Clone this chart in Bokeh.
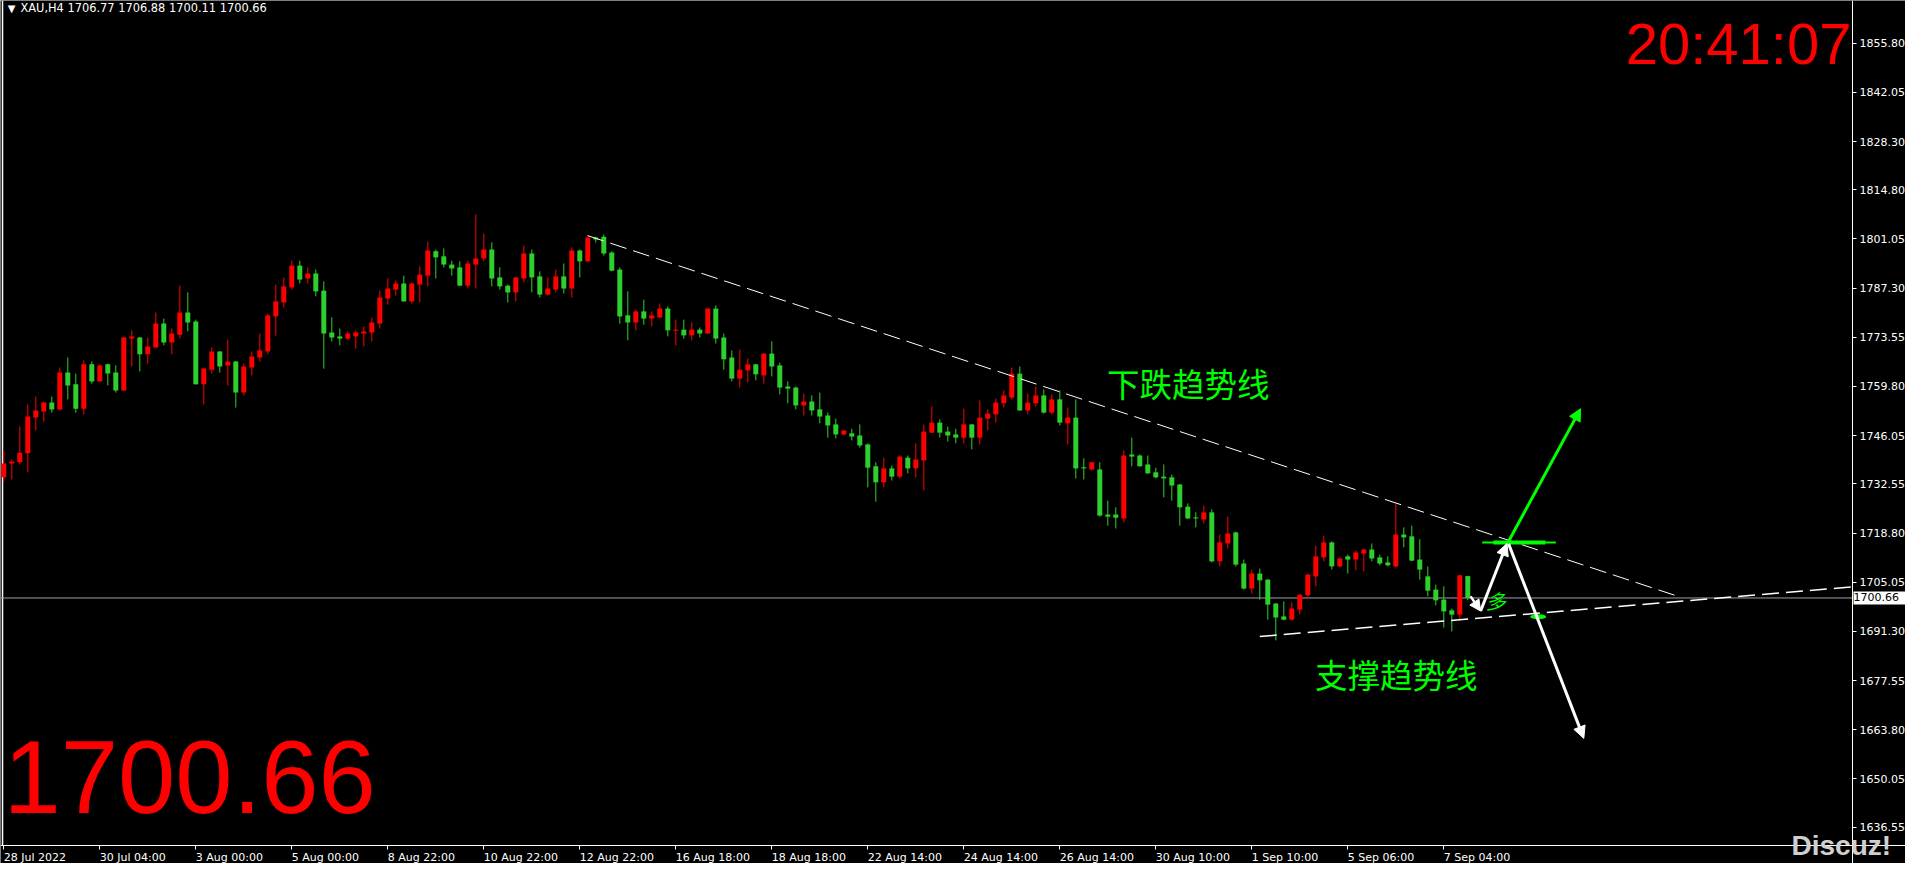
from bokeh.plotting import figure
from bokeh.models import (Range1d, FixedTicker, PrintfTickFormatter, Label,
                          Arrow, NormalHead, ColumnDataSource)
from bokeh.embed import file_html
from bokeh.resources import INLINE

# ---------------- data (XAU, H4) ----------------
opens = [1734.4, 1738.3, 1738.6, 1741.1, 1751.1, 1752.8, 1755.3, 1753.4, 1763.7, 1760.4,
         1753.6, 1766.0, 1761.2, 1766.0, 1763.7, 1758.7, 1773.2, 1773.5, 1768.8, 1770.7,
         1777.4, 1772.1, 1774.3, 1780.5, 1778.0, 1760.4, 1764.5, 1769.6, 1765.7, 1766.8,
         1758.1, 1765.1, 1767.9, 1769.6, 1779.4, 1783.3, 1787.5, 1793.6, 1790.0, 1791.4,
         1786.6, 1774.9, 1773.8, 1773.2, 1773.8, 1774.6, 1774.9, 1777.4, 1784.4, 1786.9,
         1788.6, 1783.6, 1788.3, 1790.8, 1797.6, 1796.2, 1793.9, 1793.1, 1788.0, 1793.9,
         1795.6, 1798.1, 1790.3, 1788.0, 1786.1, 1790.0, 1797.0, 1790.6, 1785.5, 1786.9,
         1790.6, 1787.2, 1797.8, 1794.8, 1801.5, 1801.7, 1797.3, 1792.5, 1779.7, 1777.7,
         1780.8, 1778.8, 1779.1, 1781.6, 1775.5, 1775.7, 1774.1, 1775.7, 1774.6, 1781.6,
         1773.5, 1767.9, 1762.0, 1764.3, 1766.0, 1762.9, 1769.0, 1765.7, 1759.8, 1759.5,
         1754.5, 1755.6, 1753.4, 1751.7, 1749.2, 1746.4, 1746.7, 1746.1, 1743.6, 1737.5,
         1733.0, 1736.9, 1734.6, 1739.9, 1736.9, 1739.1, 1746.9, 1749.7, 1747.2, 1746.4,
         1745.5, 1749.2, 1745.5, 1750.8, 1752.0, 1755.1, 1756.7, 1763.4, 1753.1, 1755.1,
         1757.3, 1752.5, 1756.2, 1749.5, 1751.1, 1737.2, 1736.6, 1736.6, 1724.0, 1724.0,
         1722.9, 1740.8, 1740.5, 1738.0, 1735.8, 1734.6, 1734.4, 1732.4, 1726.2, 1723.2,
         1722.6, 1724.6, 1710.9, 1715.9, 1719.0, 1710.3, 1703.3, 1707.5, 1705.8, 1699.1,
         1695.5, 1694.6, 1697.4, 1701.4, 1706.7, 1712.0, 1716.2, 1709.5, 1712.3, 1711.4,
         1713.1, 1714.2, 1712.0, 1710.6, 1709.5, 1718.4, 1717.9, 1711.4, 1706.7, 1703.0,
         1700.2, 1697.2, 1696.0, 1706.77]
highs = [1741.9, 1739.4, 1748.6, 1754.8, 1757.0, 1755.6, 1757.0, 1765.1, 1767.9, 1763.4,
         1767.1, 1766.8, 1766.0, 1766.2, 1765.7, 1773.6, 1775.5, 1773.6, 1773.5, 1780.5,
         1778.8, 1776.0, 1788.0, 1786.1, 1778.5, 1765.1, 1770.7, 1769.7, 1772.9, 1766.9,
         1766.2, 1769.6, 1774.6, 1780.2, 1788.3, 1790.3, 1795.0, 1795.0, 1793.1, 1792.5,
         1789.2, 1779.1, 1776.0, 1775.2, 1775.5, 1776.6, 1779.1, 1786.6, 1790.0, 1789.4,
         1790.8, 1788.9, 1793.4, 1800.3, 1798.1, 1798.4, 1795.0, 1794.8, 1795.0, 1807.9,
         1802.6, 1800.1, 1793.1, 1788.3, 1790.4, 1799.2, 1798.1, 1792.0, 1790.3, 1792.5,
         1794.2, 1798.7, 1798.1, 1801.7, 1801.7, 1802.3, 1797.6, 1793.1, 1786.4, 1781.3,
         1784.1, 1780.8, 1783.0, 1782.2, 1778.5, 1778.5, 1777.7, 1776.3, 1781.7, 1782.5,
         1774.6, 1769.9, 1770.1, 1767.6, 1766.1, 1769.1, 1772.4, 1766.5, 1761.2, 1759.8,
         1757.8, 1757.3, 1758.1, 1752.5, 1750.8, 1747.6, 1748.0, 1749.2, 1743.9, 1738.6,
         1739.9, 1737.7, 1740.5, 1740.5, 1743.9, 1749.2, 1754.2, 1750.6, 1748.6, 1748.0,
         1753.6, 1749.3, 1755.9, 1753.4, 1756.4, 1758.7, 1765.1, 1765.4, 1757.8, 1759.8,
         1759.0, 1757.6, 1758.7, 1753.9, 1756.2, 1739.7, 1738.8, 1738.6, 1727.9, 1726.0,
         1741.9, 1745.5, 1740.8, 1740.5, 1737.1, 1738.0, 1735.2, 1732.5, 1727.1, 1724.6,
         1726.5, 1725.4, 1718.4, 1723.4, 1719.2, 1711.4, 1708.6, 1708.9, 1705.9, 1699.2,
         1699.7, 1699.4, 1701.7, 1707.5, 1715.3, 1718.1, 1716.5, 1712.0, 1712.8, 1713.9,
         1714.5, 1715.9, 1712.8, 1712.3, 1727.1, 1720.4, 1720.9, 1717.1, 1709.5, 1704.4,
         1703.9, 1697.7, 1707.2, 1706.88]
lows = [1733.0, 1733.8, 1738.0, 1735.8, 1747.5, 1750.0, 1752.5, 1753.1, 1756.2, 1752.5,
        1752.0, 1760.6, 1761.2, 1760.1, 1758.1, 1758.6, 1765.4, 1764.0, 1766.2, 1770.6,
        1771.3, 1768.8, 1773.2, 1775.2, 1760.3, 1754.8, 1763.4, 1763.7, 1760.1, 1753.9,
        1757.3, 1762.9, 1766.8, 1768.8, 1774.0, 1781.9, 1786.9, 1788.6, 1788.6, 1785.0,
        1764.8, 1772.4, 1771.3, 1772.7, 1770.4, 1771.0, 1772.4, 1776.0, 1782.7, 1785.2,
        1783.5, 1783.0, 1783.3, 1787.8, 1790.0, 1793.1, 1790.8, 1787.9, 1787.2, 1787.2,
        1794.8, 1787.8, 1786.9, 1783.3, 1783.6, 1788.9, 1786.1, 1784.7, 1785.2, 1786.1,
        1785.8, 1784.7, 1790.3, 1794.7, 1800.1, 1796.4, 1792.0, 1777.4, 1772.7, 1775.5,
        1777.1, 1776.6, 1779.0, 1773.8, 1771.3, 1773.2, 1772.7, 1773.5, 1774.5, 1771.8,
        1764.5, 1761.2, 1759.5, 1760.9, 1761.5, 1760.6, 1762.6, 1757.6, 1755.1, 1753.4,
        1751.7, 1751.7, 1749.5, 1745.5, 1745.3, 1746.1, 1744.7, 1742.7, 1731.6, 1727.6,
        1731.6, 1733.5, 1734.1, 1735.5, 1734.4, 1730.7, 1746.8, 1745.5, 1744.4, 1743.9,
        1743.9, 1742.2, 1743.6, 1747.5, 1749.7, 1753.9, 1756.2, 1753.0, 1752.0, 1754.2,
        1752.2, 1752.0, 1748.9, 1743.6, 1734.1, 1733.8, 1736.3, 1723.4, 1720.9, 1720.1,
        1721.8, 1737.5, 1737.4, 1735.4, 1734.1, 1728.8, 1727.9, 1720.9, 1722.8, 1720.4,
        1721.5, 1710.6, 1709.5, 1714.5, 1709.5, 1703.0, 1701.9, 1700.2, 1694.6, 1688.8,
        1694.4, 1694.3, 1696.0, 1700.5, 1703.9, 1710.9, 1708.6, 1709.2, 1707.5, 1708.4,
        1708.1, 1710.9, 1709.8, 1709.5, 1709.2, 1714.8, 1710.9, 1705.8, 1701.1, 1698.6,
        1692.4, 1691.3, 1694.4, 1700.11]
closes = [1738.3, 1738.8, 1741.3, 1751.4, 1753.1, 1755.3, 1753.4, 1763.7, 1760.1, 1753.6,
          1766.0, 1761.2, 1765.7, 1763.4, 1758.7, 1773.5, 1773.8, 1768.8, 1771.0, 1777.4,
          1772.1, 1774.6, 1780.5, 1777.7, 1760.4, 1764.8, 1769.6, 1765.4, 1766.8, 1758.1,
          1765.4, 1768.2, 1769.9, 1779.7, 1783.6, 1787.8, 1793.6, 1789.7, 1791.4, 1786.4,
          1774.6, 1773.5, 1773.2, 1774.6, 1774.9, 1775.2, 1777.7, 1784.7, 1787.2, 1788.6,
          1783.6, 1788.6, 1791.1, 1797.8, 1795.9, 1793.9, 1792.8, 1788.0, 1794.2, 1795.6,
          1798.1, 1790.0, 1787.8, 1786.1, 1790.3, 1797.0, 1790.3, 1785.5, 1787.2, 1790.6,
          1787.2, 1797.8, 1794.8, 1801.5, 1800.9, 1797.0, 1792.2, 1779.4, 1777.7, 1780.8,
          1778.8, 1779.7, 1781.6, 1775.5, 1775.7, 1774.1, 1775.7, 1774.6, 1781.6, 1773.2,
          1767.4, 1762.0, 1764.5, 1766.0, 1763.2, 1769.0, 1765.4, 1759.5, 1759.2, 1754.5,
          1755.6, 1753.1, 1751.4, 1748.9, 1746.4, 1747.5, 1745.8, 1743.3, 1737.1, 1733.0,
          1736.9, 1734.6, 1740.2, 1736.9, 1739.4, 1747.2, 1749.7, 1746.9, 1746.1, 1745.5,
          1749.2, 1745.5, 1751.1, 1752.2, 1755.3, 1757.3, 1763.4, 1753.1, 1755.3, 1757.3,
          1752.5, 1756.2, 1749.7, 1751.1, 1736.9, 1736.9, 1738.6, 1723.7, 1723.4, 1723.1,
          1740.5, 1740.2, 1737.5, 1735.5, 1734.4, 1734.1, 1732.1, 1726.0, 1722.9, 1722.9,
          1724.6, 1710.9, 1716.2, 1718.7, 1710.0, 1703.3, 1707.5, 1705.6, 1698.8, 1695.2,
          1694.6, 1697.7, 1701.6, 1707.2, 1712.3, 1716.2, 1709.5, 1711.7, 1711.4, 1713.4,
          1714.2, 1711.7, 1710.3, 1709.8, 1718.4, 1717.6, 1711.1, 1708.6, 1702.7, 1700.0,
          1696.9, 1696.0, 1707.0, 1700.66]

# time axis: one label every 12 bars
xtick_pos = [0, 12, 24, 36, 48, 60, 72, 84, 96, 108, 120, 132, 144, 156, 168, 180]
xtick_labels = ["28 Jul 2022", "30 Jul 04:00", "3 Aug 00:00", "5 Aug 00:00", "8 Aug 22:00",
                "10 Aug 22:00", "12 Aug 22:00", "16 Aug 18:00", "18 Aug 18:00", "22 Aug 14:00",
                "24 Aug 14:00", "26 Aug 14:00", "30 Aug 10:00", "1 Sep 10:00", "5 Sep 06:00",
                "7 Sep 04:00"]
ytick_values = [1855.80, 1842.05, 1828.30, 1814.80, 1801.05, 1787.30, 1773.55, 1759.80,
                1746.05, 1732.55, 1718.80, 1705.05, 1691.30, 1677.55, 1663.80, 1650.05, 1636.55]

last_price = 1700.66
header_text = "XAU,H4  1706.77 1706.88 1700.11 1700.66"
clock_text = "20:41:07"
watermark = "Discuz!"

# visible window of the chart (bar index / price)
x_view = (-0.4125, 237.7125)
y_view = (1626.41, 1867.74)
price_scale_x = 231.09      # where the price scale sits
time_scale_y = 1631.44      # where the time scale sits

# drawn objects (bar index, price)
down_line_x = [72.96, 208.96]
down_line_y = [1802.0, 1701.35]
support_line_x = [157.0, 231.09]
support_line_y = [1689.89, 1703.76]
green_level_x = [184.8, 194.0]
green_level_y = [1716.2, 1716.2]
green_level_thick_x = [186.2, 192.7]
peak = (188.0, 1716.1)
green_arrow_end = (197.1, 1753.6)
white_down_end = (197.5, 1661.4)
small_arrow_start = (183.35, 1701.1)
small_arrow_end = (184.6, 1697.0)
cross_mark = (191.8, 1695.4)
label_down = ("下跌趋势线", 137.9, 1761.0)
label_support = ("支撑趋势线", 163.9, 1679.6)
label_long = ("多", 186.5, 1700.0)

# ---------------- figure ----------------
RED = "#ff0000"
GREEN = "#2ed02e"
LIME = "#00ff00"
W, H = 1905, 863

idx = list(range(len(opens)))
is_up = [c >= o for o, c in zip(opens, closes)]
colors = [RED if u else GREEN for u in is_up]
tops = [max(o, c) for o, c in zip(opens, closes)]
bottoms = [min(o, c) for o, c in zip(opens, closes)]
bottoms = [b if t - b >= 0.3 else t - 0.3 for t, b in zip(tops, bottoms)]

src = ColumnDataSource(dict(x=idx, high=highs, low=lows, top=tops, bottom=bottoms, color=colors))

p = figure(width=W, height=H, x_range=Range1d(*x_view), y_range=Range1d(*y_view),
           output_backend="svg", toolbar_location=None, y_axis_location="right",
           background_fill_color="black", border_fill_color="black",
           min_border_left=0, min_border_top=0, min_border_right=0, min_border_bottom=0)
p.grid.visible = False
p.outline_line_color = None

# price scale (right)
yax = p.yaxis[0]
yax.fixed_location = price_scale_x
yax.ticker = FixedTicker(ticks=ytick_values)
yax.formatter = PrintfTickFormatter(format="%.2f")
yax.axis_line_color = "white"
yax.major_tick_line_color = "white"
yax.major_tick_out = 4
yax.major_tick_in = 0
yax.minor_tick_line_color = None
yax.major_label_text_color = "white"
yax.major_label_text_font = "DejaVu Sans"
yax.major_label_text_font_size = "11px"
yax.major_label_standoff = 3

# time scale (bottom)
xax = p.xaxis[0]
xax.fixed_location = time_scale_y
xax.ticker = FixedTicker(ticks=xtick_pos)
xax.axis_line_color = "white"
xax.major_tick_line_color = "white"
xax.major_tick_out = 4
xax.major_tick_in = 0
xax.minor_tick_line_color = None
xax.major_label_text_color = None

# time labels start at their tick, as in the terminal
for pos, txt in zip(xtick_pos, xtick_labels):
    p.add_layout(Label(x=pos, y=6, x_units="data", y_units="screen", text=txt,
                       text_align="left", text_baseline="middle", text_color="white",
                       text_font="DejaVu Sans", text_font_size="11px"))

# left border + last price line
p.segment(x0=[-0.16], y0=[time_scale_y], x1=[-0.16], y1=[y_view[1]], line_color="white", line_width=1.5)
p.segment(x0=[x_view[0]], y0=[last_price], x1=[price_scale_x], y1=[last_price],
          line_color="#a0a0a8", line_width=1)

# candles
p.segment(x0="x", y0="low", x1="x", y1="high", color="color", line_width=1, source=src)
p.vbar(x="x", width=0.62, top="top", bottom="bottom", fill_color="color",
       line_color=None, source=src)

# trend lines
p.line(down_line_x, down_line_y, line_color="white", line_width=1, line_dash="17 7")
p.line(support_line_x, support_line_y, line_color="white", line_width=1.5, line_dash="17 7")

# hand-drawn marks
p.line(green_level_x, green_level_y, line_color=LIME, line_width=2)
p.line(green_level_thick_x, green_level_y, line_color=LIME, line_width=4)
p.add_layout(Arrow(end=NormalHead(size=12, fill_color=LIME, line_color=LIME),
                   x_start=peak[0], y_start=peak[1], x_end=green_arrow_end[0], y_end=green_arrow_end[1],
                   line_color=LIME, line_width=3))
p.add_layout(Arrow(end=NormalHead(size=12, fill_color="white", line_color="white"),
                   x_start=peak[0] + 0.1, y_start=peak[1] - 0.3, x_end=white_down_end[0], y_end=white_down_end[1],
                   line_color="white", line_width=3))
p.add_layout(Arrow(end=NormalHead(size=11, fill_color="white", line_color="white"),
                   x_start=small_arrow_start[0], y_start=small_arrow_start[1],
                   x_end=small_arrow_end[0], y_end=small_arrow_end[1],
                   line_color="white", line_width=2.5))
p.add_layout(Arrow(end=NormalHead(size=12, fill_color="white", line_color="white"),
                   x_start=small_arrow_end[0], y_start=small_arrow_end[1],
                   x_end=peak[0] - 0.1, y_end=peak[1] - 0.2,
                   line_color="white", line_width=3))
p.ellipse(x=[cross_mark[0]], y=[cross_mark[1]], width=16, height=5, width_units="screen",
          height_units="screen", fill_color=LIME, line_color=None)

for txt, lx, ly in (label_down, label_support):
    p.add_layout(Label(x=lx, y=ly, text=txt, text_align="left", text_baseline="middle",
                       text_color=LIME, text_font="Noto Sans CJK SC", text_font_size="32.5px"))
p.add_layout(Label(x=label_long[1], y=label_long[2], text=label_long[0], text_align="center",
                   text_baseline="middle", text_color=LIME, text_font="Noto Sans CJK SC",
                   text_font_size="20px", text_font_style="italic"))

# header / big texts
p.add_layout(Label(x=11, y=H - 8, x_units="screen", y_units="screen", text="▼", text_color="white",
                   text_font="DejaVu Sans", text_font_size="10px", text_align="center",
                   text_baseline="middle"))
p.add_layout(Label(x=20, y=H - 7.5, x_units="screen", y_units="screen", text=header_text,
                   text_color="white", text_font="DejaVu Sans", text_font_size="11.4px",
                   text_baseline="middle"))
p.add_layout(Label(x=1851, y=H - 42.5, x_units="screen", y_units="screen", text=clock_text,
                   text_color=RED, text_font="Liberation Sans", text_font_size="58px",
                   text_align="right", text_baseline="middle"))
p.add_layout(Label(x=3, y=H - 776.6, x_units="screen", y_units="screen", text=f"{last_price:.2f}",
                   text_color=RED, text_font="Liberation Sans", text_font_size="103px",
                   text_align="left", text_baseline="middle"))

# current price tag on the price scale
p.add_layout(Label(x=1853, y=last_price, x_units="screen", y_units="data", text=f" {last_price:.2f} ",
                   text_color="black", background_fill_color="white", text_font="DejaVu Sans",
                   text_font_size="11px", text_align="left", text_baseline="middle"))

# watermark
p.add_layout(Label(x=1791, y=H - 845, x_units="screen", y_units="screen", text=watermark,
                   text_color="#cfcfcf", text_font="Liberation Sans", text_font_size="28px",
                   text_font_style="bold", text_baseline="middle"))

open("out.html", "w").write(file_html(p, INLINE))
